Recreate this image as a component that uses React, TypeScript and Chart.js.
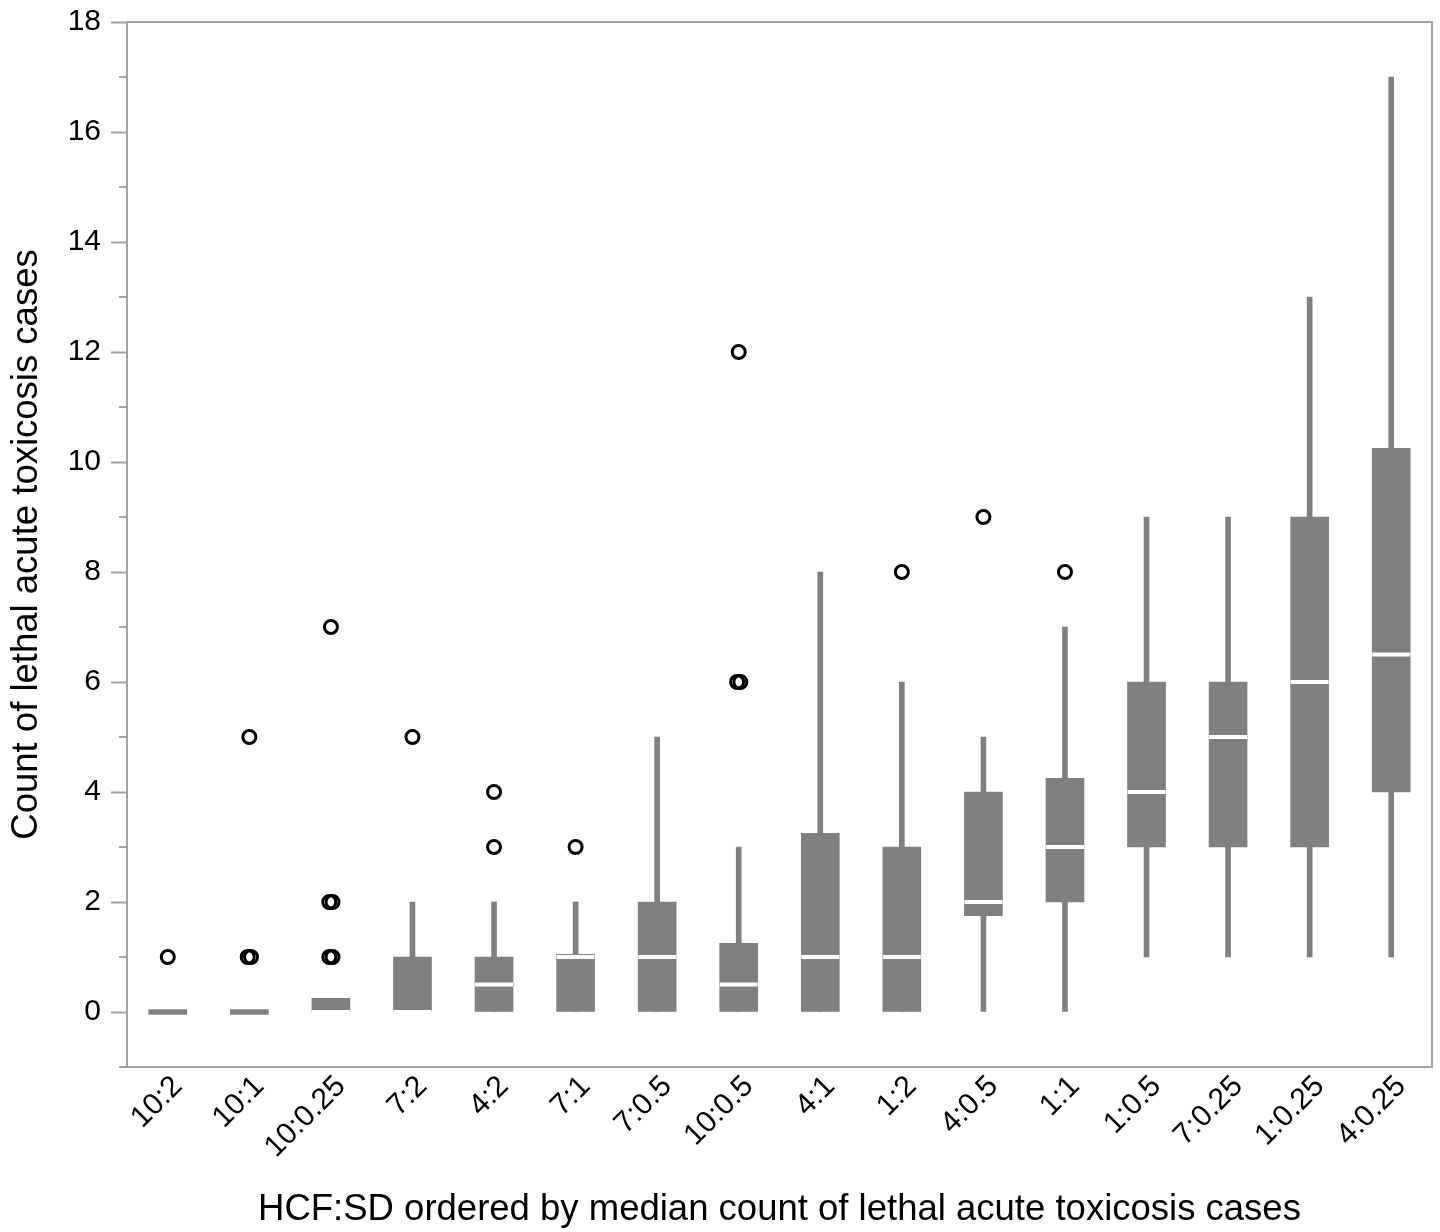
import React, { useEffect, useRef } from "react";
import { Chart, registerables } from "chart.js";

Chart.register(...registerables);

const categories = ["10:2", "10:1", "10:0.25", "7:2", "4:2", "7:1", "7:0.5", "10:0.5", "4:1", "1:2", "4:0.5", "1:1", "1:0.5", "7:0.25", "1:0.25", "4:0.25"];
const whiskerLow = [0, 0, 0, 0, 0, 0, 0, 0, 0, 0, 0, 0, 1, 1, 1, 1];
const q1 = [0, 0, 0, 0, 0, 0, 0, 0, 0, 0, 1.75, 2, 3, 3, 3, 4];
const medians = [0, 0, 0, 0, 0.5, 1, 1, 0.5, 1, 1, 2, 3, 4, 5, 6, 6.5];
const q3 = [0, 0, 0.25, 1, 1, 1.05, 2, 1.25, 3.25, 3, 4, 4.25, 6, 6, 9, 10.25];
const whiskerHigh = [0, 0, 0, 2, 2, 2, 5, 3, 8, 6, 5, 7, 9, 9, 13, 17];
const outliers: number[][] = [[1], [1, 1, 5], [1, 1, 2, 2, 7], [5], [3, 4], [3], [], [6, 6, 12], [], [8], [9], [8], [], [], [], []];
const yTicks = [0, 2, 4, 6, 8, 10, 12, 14, 16, 18];
const yMinorTicks = [-1, 1, 3, 5, 7, 9, 11, 13, 15, 17];

const GREY = "#808080";
const FRAME = "#a3a3a3";
const FONT = "'Liberation Sans', Arial, sans-serif";

export default function App() {
  const ref = useRef<HTMLCanvasElement | null>(null);

  useEffect(() => {
    document.body.style.margin = "0";
    const canvas = ref.current;
    if (!canvas) return;

    const outlierPts: { x: number; y: number }[] = [];
    outliers.forEach((vals, i) => {
      const counts: Record<string, number> = {};
      vals.forEach((v) => (counts[v] = (counts[v] || 0) + 1));
      const seen: Record<string, number> = {};
      vals.forEach((v) => {
        const n = counts[v];
        const k = seen[v] || 0;
        seen[v] = k + 1;
        const off = n > 1 ? (k - (n - 1) / 2) * 0.04 : 0;
        outlierPts.push({ x: i + off, y: v });
      });
    });

    const framePlugin = {
      id: "frame",
      afterDraw(chart: any) {
        const { ctx, chartArea } = chart;
        ctx.save();
        ctx.strokeStyle = FRAME;
        ctx.lineWidth = 2;
        ctx.strokeRect(chartArea.left, chartArea.top, chartArea.right - chartArea.left, chartArea.bottom - chartArea.top);
        const y = chart.scales.y;
        ctx.beginPath();
        yMinorTicks.forEach((v) => {
          if (v < y.min || v > y.max) return;
          const py = Math.round(y.getPixelForValue(v));
          ctx.moveTo(chartArea.left - 8, py);
          ctx.lineTo(chartArea.left, py);
        });
        ctx.stroke();
        ctx.restore();
      },
    };

    const chart = new Chart(canvas, {
      type: "bar",
      data: {
        datasets: [
          {
            type: "scatter",
            label: "outliers",
            data: outlierPts,
            pointStyle: "circle",
            pointRadius: 6.5,
            pointHoverRadius: 6.5,
            pointBorderWidth: 3,
            pointBorderColor: "#000",
            pointBackgroundColor: "rgba(255,255,255,0)",
            order: 1,
          } as any,
          {
            type: "scatter",
            label: "median",
            data: medians.map((m, i) => ({ x: i, y: m })).filter((_, i) => q3[i] > q1[i]),
            pointStyle: "line",
            pointRadius: 19,
            pointHoverRadius: 19,
            pointBorderWidth: 4,
            pointBorderColor: "#ffffff",
            order: 2,
          } as any,
          {
            type: "bar",
            label: "box",
            data: q1.map((v, i) => ({ x: i, y: [v, q3[i]] })),
            backgroundColor: GREY,
            barThickness: 38,
            minBarLength: 5,
            grouped: false,
            borderWidth: 0,
            order: 3,
          } as any,
          {
            type: "bar",
            label: "whisker",
            data: whiskerLow.map((v, i) => ({ x: i, y: [v, whiskerHigh[i]] })),
            backgroundColor: GREY,
            barThickness: 5,
            grouped: false,
            borderWidth: 0,
            order: 4,
          } as any,
        ],
      },
      options: {
        animation: false,
        responsive: false,
        devicePixelRatio: 1,
        layout: { autoPadding: false, padding: { top: 22, right: 8, left: 0, bottom: 0 } },
        plugins: { legend: { display: false }, tooltip: { enabled: false } },
        scales: {
          x: {
            type: "linear",
            offset: false,
            min: -0.5,
            max: 15.5,
            grid: { display: false, offset: false },
            border: { display: true, color: FRAME, width: 2 },
            afterBuildTicks: (scale: any) => {
              scale.ticks = categories.map((_, i) => ({ value: i }));
            },
            afterFit: (scale: any) => {
              scale.height = 165;
              scale.paddingLeft = 0;
              scale.paddingRight = 0;
            },
            ticks: {
              autoSkip: false,
              maxRotation: 45,
              minRotation: 45,
              padding: -6,
              labelOffset: 10,
              color: "#000",
              font: { family: FONT, size: 30 },
              callback: (v: any) => categories[v as number] ?? "",
            },
            title: {
              display: true,
              text: "HCF:SD ordered by median count of lethal acute toxicosis cases",
              color: "#000",
              font: { family: FONT, size: 36.5 },
              padding: { top: 0, bottom: 0 },
            },
          },
          y: {
            type: "linear",
            min: -1,
            max: 18,
            afterBuildTicks: (scale: any) => {
              scale.ticks = yTicks.map((v) => ({ value: v }));
            },
            afterFit: (scale: any) => {
              scale.width = 127;
              scale.paddingTop = 0;
              scale.paddingBottom = 0;
            },
            grid: {
              display: true,
              drawOnChartArea: false,
              drawTicks: true,
              tickLength: 16,
              tickWidth: 2,
              tickColor: FRAME,
            },
            border: { display: true, color: FRAME, width: 2 },
            ticks: {
              padding: 10,
              color: "#000",
              font: { family: FONT, size: 30 },
            },
            title: {
              display: true,
              text: "Count of lethal acute toxicosis cases",
              color: "#000",
              font: { family: FONT, size: 36.5 },
              padding: { top: 5, bottom: 0 },
            },
          },
        },
      },
      plugins: [framePlugin],
    });

    return () => chart.destroy();
  }, []);

  return (
    <div style={{ width: 1440, height: 1232 }}>
      <canvas ref={ref} width={1440} height={1232} style={{ display: "block" }} />
    </div>
  );
}
